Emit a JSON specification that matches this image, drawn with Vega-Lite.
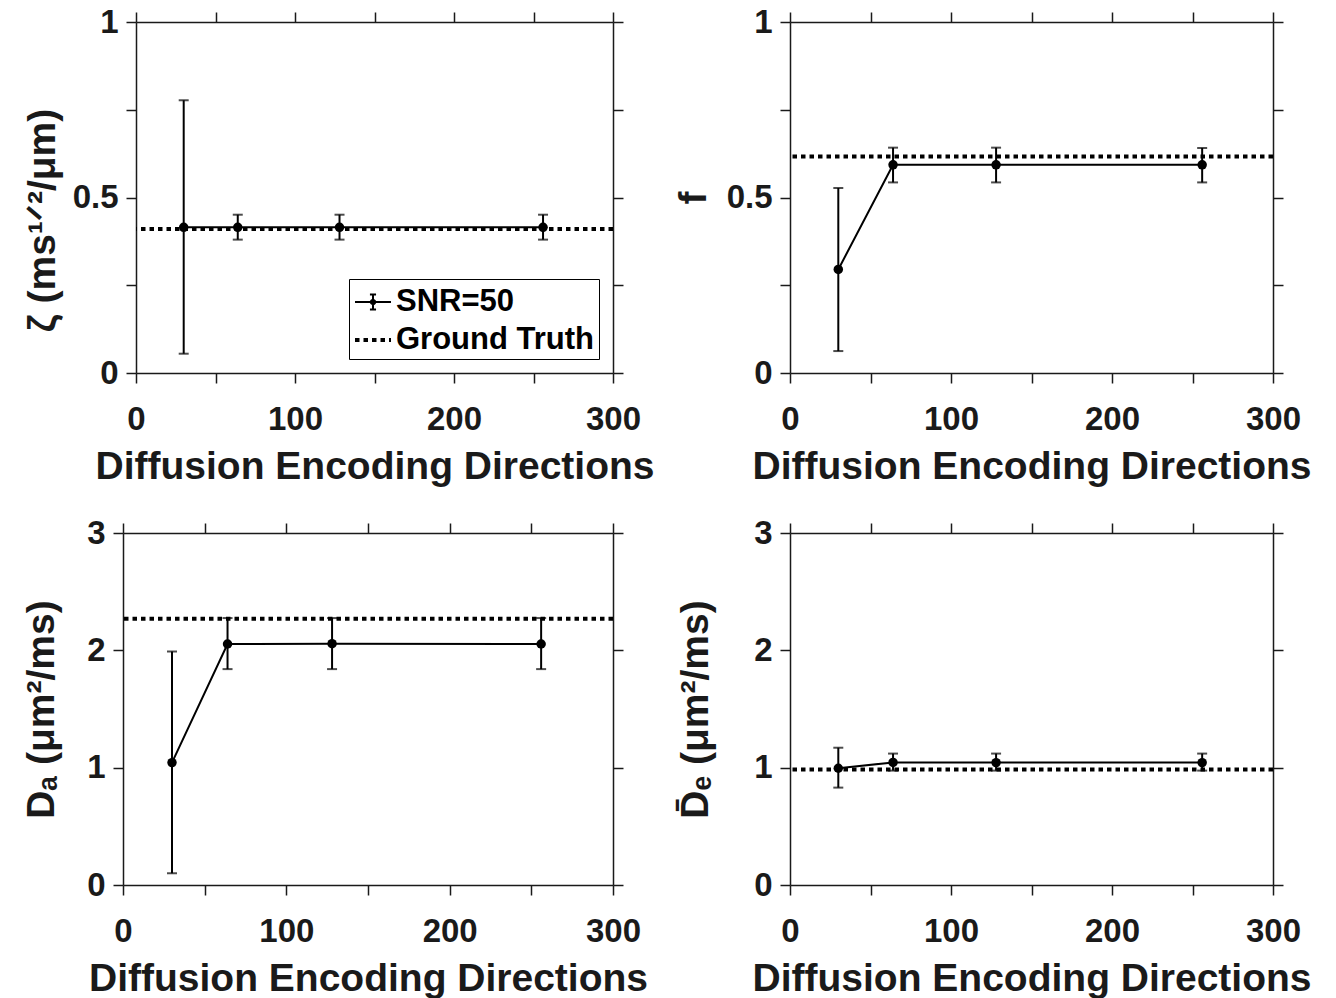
{
  "$schema": "https://vega.github.io/schema/vega-lite/v6.json",
  "background": "white",
  "padding": {"left": 22, "top": 6, "right": 5, "bottom": 0},
  "columns": 1,
  "align": "none",
  "resolve": {"scale": {"strokeDash": "independent", "shape": "independent", "strokeWidth": "independent"}, "legend": {"strokeDash": "independent", "shape": "independent", "strokeWidth": "independent"}},
  "datasets": {
    "pts": [
      {"panel": "zeta", "x": 30, "m": 0.415, "lo": 0.055, "hi": 0.777, "series": "SNR=50"},
      {"panel": "zeta", "x": 64, "m": 0.415, "lo": 0.38, "hi": 0.451, "series": "SNR=50"},
      {"panel": "zeta", "x": 128, "m": 0.415, "lo": 0.38, "hi": 0.451, "series": "SNR=50"},
      {"panel": "zeta", "x": 256, "m": 0.415, "lo": 0.38, "hi": 0.451, "series": "SNR=50"},
      {"panel": "f", "x": 30, "m": 0.295, "lo": 0.0625, "hi": 0.527, "series": "SNR=50"},
      {"panel": "f", "x": 64, "m": 0.593, "lo": 0.543, "hi": 0.642, "series": "SNR=50"},
      {"panel": "f", "x": 128, "m": 0.593, "lo": 0.543, "hi": 0.642, "series": "SNR=50"},
      {"panel": "f", "x": 256, "m": 0.593, "lo": 0.543, "hi": 0.641, "series": "SNR=50"},
      {"panel": "Da", "x": 30, "m": 1.043, "lo": 0.1, "hi": 1.99, "series": "SNR=50"},
      {"panel": "Da", "x": 64, "m": 2.054, "lo": 1.84, "hi": 2.275, "series": "SNR=50"},
      {"panel": "Da", "x": 128, "m": 2.057, "lo": 1.84, "hi": 2.275, "series": "SNR=50"},
      {"panel": "Da", "x": 256, "m": 2.054, "lo": 1.84, "hi": 2.275, "series": "SNR=50"},
      {"panel": "De", "x": 30, "m": 0.995, "lo": 0.83, "hi": 1.17, "series": "SNR=50"},
      {"panel": "De", "x": 64, "m": 1.045, "lo": 0.975, "hi": 1.12, "series": "SNR=50"},
      {"panel": "De", "x": 128, "m": 1.043, "lo": 0.975, "hi": 1.12, "series": "SNR=50"},
      {"panel": "De", "x": 256, "m": 1.043, "lo": 0.975, "hi": 1.12, "series": "SNR=50"}
    ],
    "gt": [
      {"panel": "zeta", "gt": 0.41, "series": "Ground Truth"},
      {"panel": "f", "gt": 0.617, "series": "Ground Truth"},
      {"panel": "Da", "gt": 2.27, "series": "Ground Truth"},
      {"panel": "De", "gt": 0.985, "series": "Ground Truth"}
    ]
  },
  "concat": [
    {
      "resolve": {"scale": {"strokeDash": "independent", "shape": "independent", "strokeWidth": "independent"}, "legend": {"strokeDash": "independent", "shape": "independent", "strokeWidth": "independent"}},
      "spacing": -101,
      "hconcat": [
        {
          "width": 1, "height": 1,
          "data": {"values": []},
          "mark": {"type": "point", "opacity": 0},
          "encoding": {}
        },
        {
          "resolve": {"scale": {"strokeDash": "independent", "shape": "independent", "strokeWidth": "independent"}, "legend": {"strokeDash": "independent", "shape": "independent", "strokeWidth": "independent"}},
          "spacing": 19,
          "hconcat": [
            {
              "width": 477, "height": 351,
              "resolve": {"axis": {"x": "independent", "y": "independent"}},
              "layer": [
                {
                  "data": {"name": "gt"},
                  "transform": [{"filter": "datum.panel === 'zeta'"}],
                  "mark": {"type": "rule", "color": "black"},
                  "encoding": {
                    "y": {"field": "gt", "type": "quantitative", "scale": {"domain": [0, 1], "nice": false}, "axis": null},
                    "strokeDash": {"field": "series", "type": "nominal",
                      "scale": {"domain": ["SNR=50", "Ground Truth"], "range": [[1, 0], [4.5, 4]]},
                      "legend": {"title": null, "orient": "bottom-right", "offset": 14}},
                    "strokeWidth": {"field": "series", "type": "nominal",
                      "scale": {"domain": ["SNR=50", "Ground Truth"], "range": [2, 4]},
                      "legend": {"title": null, "orient": "bottom-right", "offset": 14}}
                  }
                },
                {
                  "data": {"name": "pts"},
                  "transform": [{"filter": "datum.panel === 'zeta'"}],
                  "mark": {"type": "rule", "color": "black", "strokeWidth": 2},
                  "encoding": {
                    "x": {"field": "x", "type": "quantitative", "scale": {"domain": [0, 300], "nice": false},
                      "axis": {"orient": "bottom", "values": [0, 50, 100, 150, 200, 250, 300], "labelExpr": "datum.value % 100 === 0 ? datum.label : ''", "title": "Diffusion Encoding Directions"}},
                    "y": {"field": "lo", "type": "quantitative", "scale": {"domain": [0, 1], "nice": false},
                      "axis": {"orient": "left", "values": [0, 0.25, 0.5, 0.75, 1], "format": "~g", "labelExpr": "datum.value === 0.25 || datum.value === 0.75 ? '' : datum.label", "title": "ζ (ms¹ᐟ²/μm)", "titlePadding": 10, "titleY": 198}},
                    "y2": {"field": "hi"}
                  }
                },
                {
                  "data": {"name": "pts"},
                  "transform": [{"filter": "datum.panel === 'zeta'"}],
                  "mark": {"type": "tick", "orient": "horizontal", "color": "black", "size": 10, "thickness": 2},
                  "encoding": {
                    "x": {"field": "x", "type": "quantitative", "axis": {"orient": "top", "values": [0, 50, 100, 150, 200, 250, 300], "labels": false, "title": null}},
                    "y": {"field": "lo", "type": "quantitative", "axis": {"orient": "right", "values": [0, 0.25, 0.5, 0.75, 1], "labels": false, "title": null}}
                  }
                },
                {
                  "data": {"name": "pts"},
                  "transform": [{"filter": "datum.panel === 'zeta'"}],
                  "mark": {"type": "tick", "orient": "horizontal", "color": "black", "size": 10, "thickness": 2},
                  "encoding": {
                    "x": {"field": "x", "type": "quantitative", "axis": null},
                    "y": {"field": "hi", "type": "quantitative", "axis": null}
                  }
                },
                {
                  "data": {"name": "pts"},
                  "transform": [{"filter": "datum.panel === 'zeta'"}],
                  "mark": {"type": "line", "color": "black"},
                  "encoding": {
                    "x": {"field": "x", "type": "quantitative", "axis": null},
                    "y": {"field": "m", "type": "quantitative", "axis": null},
                    "strokeDash": {"field": "series", "type": "nominal", "legend": {"title": null, "orient": "bottom-right", "offset": 14}},
                    "strokeWidth": {"field": "series", "type": "nominal", "legend": {"title": null, "orient": "bottom-right", "offset": 14}}
                  }
                },
                {
                  "data": {"name": "pts"},
                  "transform": [{"filter": "datum.panel === 'zeta'"}],
                  "mark": {"type": "point", "filled": true, "color": "black", "size": 90, "opacity": 1},
                  "encoding": {
                    "x": {"field": "x", "type": "quantitative", "axis": null},
                    "y": {"field": "m", "type": "quantitative", "axis": null}
                  }
                },
                {
                  "data": {"name": "gt"},
                  "transform": [{"filter": "datum.gt < -100"}],
                  "mark": {"type": "point", "filled": false, "color": "black", "opacity": 1},
                  "encoding": {
                    "x": {"field": "gt", "type": "quantitative", "axis": null},
                    "y": {"field": "gt", "type": "quantitative", "axis": null},
                    "shape": {"field": "series", "type": "nominal",
                      "scale": {"domain": ["SNR=50", "Ground Truth"], "range": ["M-1,0H1M0,-0.42V0.42M-0.17,-0.42H0.17M-0.17,0.42H0.17M-0.12,0A0.12,0.12 0 1,0 0.12,0A0.12,0.12 0 1,0 -0.12,0Z", "M-1,0H1"]},
                      "legend": {"title": null, "orient": "bottom-right", "offset": 14}}
                  }
                }
              ]
            },
            {
              "width": 483, "height": 351,
              "resolve": {"axis": {"x": "independent", "y": "independent"}},
              "layer": [
                {
                  "data": {"name": "gt"},
                  "transform": [{"filter": "datum.panel === 'f'"}],
                  "mark": {"type": "rule", "color": "black", "strokeWidth": 4, "strokeDash": [4.5, 4]},
                  "encoding": {"y": {"field": "gt", "type": "quantitative", "scale": {"domain": [0, 1], "nice": false}, "axis": null}}
                },
                {
                  "data": {"name": "pts"},
                  "transform": [{"filter": "datum.panel === 'f'"}],
                  "mark": {"type": "rule", "color": "black", "strokeWidth": 2},
                  "encoding": {
                    "x": {"field": "x", "type": "quantitative", "scale": {"domain": [0, 300], "nice": false},
                      "axis": {"orient": "bottom", "values": [0, 50, 100, 150, 200, 250, 300], "labelExpr": "datum.value % 100 === 0 ? datum.label : ''", "title": "Diffusion Encoding Directions"}},
                    "y": {"field": "lo", "type": "quantitative", "scale": {"domain": [0, 1], "nice": false},
                      "axis": {"orient": "left", "values": [0, 0.25, 0.5, 0.75, 1], "format": "~g", "labelExpr": "datum.value === 0.25 || datum.value === 0.75 ? '' : datum.label", "title": "f", "titlePadding": 13}},
                    "y2": {"field": "hi"}
                  }
                },
                {
                  "data": {"name": "pts"},
                  "transform": [{"filter": "datum.panel === 'f'"}],
                  "mark": {"type": "tick", "orient": "horizontal", "color": "black", "size": 10, "thickness": 2},
                  "encoding": {
                    "x": {"field": "x", "type": "quantitative", "axis": {"orient": "top", "values": [0, 50, 100, 150, 200, 250, 300], "labels": false, "title": null}},
                    "y": {"field": "lo", "type": "quantitative", "axis": {"orient": "right", "values": [0, 0.25, 0.5, 0.75, 1], "labels": false, "title": null}}
                  }
                },
                {
                  "data": {"name": "pts"},
                  "transform": [{"filter": "datum.panel === 'f'"}],
                  "mark": {"type": "tick", "orient": "horizontal", "color": "black", "size": 10, "thickness": 2},
                  "encoding": {
                    "x": {"field": "x", "type": "quantitative", "axis": null},
                    "y": {"field": "hi", "type": "quantitative", "axis": null}
                  }
                },
                {
                  "data": {"name": "pts"},
                  "transform": [{"filter": "datum.panel === 'f'"}],
                  "mark": {"type": "line", "color": "black", "strokeWidth": 2},
                  "encoding": {
                    "x": {"field": "x", "type": "quantitative", "axis": null},
                    "y": {"field": "m", "type": "quantitative", "axis": null}
                  }
                },
                {
                  "data": {"name": "pts"},
                  "transform": [{"filter": "datum.panel === 'f'"}],
                  "mark": {"type": "point", "filled": true, "color": "black", "size": 90, "opacity": 1},
                  "encoding": {
                    "x": {"field": "x", "type": "quantitative", "axis": null},
                    "y": {"field": "m", "type": "quantitative", "axis": null}
                  }
                }
              ]
            }
          ]
        }
      ]
    },
    {
      "spacing": 28,
      "hconcat": [
        {
          "width": 490, "height": 352,
          "resolve": {"axis": {"x": "independent", "y": "independent"}},
          "layer": [
            {
              "data": {"name": "gt"},
              "transform": [{"filter": "datum.panel === 'Da'"}],
              "mark": {"type": "rule", "color": "black", "strokeWidth": 4, "strokeDash": [4.5, 4]},
              "encoding": {"y": {"field": "gt", "type": "quantitative", "scale": {"domain": [0, 3], "nice": false}, "axis": null}}
            },
            {
              "data": {"name": "pts"},
              "transform": [{"filter": "datum.panel === 'Da'"}],
              "mark": {"type": "rule", "color": "black", "strokeWidth": 2},
              "encoding": {
                "x": {"field": "x", "type": "quantitative", "scale": {"domain": [0, 300], "nice": false},
                  "axis": {"orient": "bottom", "values": [0, 50, 100, 150, 200, 250, 300], "labelExpr": "datum.value % 100 === 0 ? datum.label : ''", "title": "Diffusion Encoding Directions"}},
                "y": {"field": "lo", "type": "quantitative", "scale": {"domain": [0, 3], "nice": false},
                  "axis": {"orient": "left", "values": [0, 1, 2, 3], "format": "~g", "title": "Dₐ (μm²/ms)", "titlePadding": 25}},
                "y2": {"field": "hi"}
              }
            },
            {
              "data": {"name": "pts"},
              "transform": [{"filter": "datum.panel === 'Da'"}],
              "mark": {"type": "tick", "orient": "horizontal", "color": "black", "size": 10, "thickness": 2},
              "encoding": {
                "x": {"field": "x", "type": "quantitative", "axis": {"orient": "top", "values": [0, 50, 100, 150, 200, 250, 300], "labels": false, "title": null}},
                "y": {"field": "lo", "type": "quantitative", "axis": {"orient": "right", "values": [0, 1, 2, 3], "labels": false, "title": null}}
              }
            },
            {
              "data": {"name": "pts"},
              "transform": [{"filter": "datum.panel === 'Da'"}],
              "mark": {"type": "tick", "orient": "horizontal", "color": "black", "size": 10, "thickness": 2},
              "encoding": {
                "x": {"field": "x", "type": "quantitative", "axis": null},
                "y": {"field": "hi", "type": "quantitative", "axis": null}
              }
            },
            {
              "data": {"name": "pts"},
              "transform": [{"filter": "datum.panel === 'Da'"}],
              "mark": {"type": "line", "color": "black", "strokeWidth": 2},
              "encoding": {
                "x": {"field": "x", "type": "quantitative", "axis": null},
                "y": {"field": "m", "type": "quantitative", "axis": null}
              }
            },
            {
              "data": {"name": "pts"},
              "transform": [{"filter": "datum.panel === 'Da'"}],
              "mark": {"type": "point", "filled": true, "color": "black", "size": 90, "opacity": 1},
              "encoding": {
                "x": {"field": "x", "type": "quantitative", "axis": null},
                "y": {"field": "m", "type": "quantitative", "axis": null}
              }
            }
          ]
        },
        {
          "width": 483, "height": 352,
          "resolve": {"axis": {"x": "independent", "y": "independent"}},
          "layer": [
            {
              "data": {"name": "gt"},
              "transform": [{"filter": "datum.panel === 'De'"}],
              "mark": {"type": "rule", "color": "black", "strokeWidth": 4, "strokeDash": [4.5, 4]},
              "encoding": {"y": {"field": "gt", "type": "quantitative", "scale": {"domain": [0, 3], "nice": false}, "axis": null}}
            },
            {
              "data": {"name": "pts"},
              "transform": [{"filter": "datum.panel === 'De'"}],
              "mark": {"type": "rule", "color": "black", "strokeWidth": 2},
              "encoding": {
                "x": {"field": "x", "type": "quantitative", "scale": {"domain": [0, 300], "nice": false},
                  "axis": {"orient": "bottom", "values": [0, 50, 100, 150, 200, 250, 300], "labelExpr": "datum.value % 100 === 0 ? datum.label : ''", "title": "Diffusion Encoding Directions"}},
                "y": {"field": "lo", "type": "quantitative", "scale": {"domain": [0, 3], "nice": false},
                  "axis": {"orient": "left", "values": [0, 1, 2, 3], "format": "~g", "title": "D̄ₑ (μm²/ms)", "titlePadding": 38}},
                "y2": {"field": "hi"}
              }
            },
            {
              "data": {"name": "pts"},
              "transform": [{"filter": "datum.panel === 'De'"}],
              "mark": {"type": "tick", "orient": "horizontal", "color": "black", "size": 10, "thickness": 2},
              "encoding": {
                "x": {"field": "x", "type": "quantitative", "axis": {"orient": "top", "values": [0, 50, 100, 150, 200, 250, 300], "labels": false, "title": null}},
                "y": {"field": "lo", "type": "quantitative", "axis": {"orient": "right", "values": [0, 1, 2, 3], "labels": false, "title": null}}
              }
            },
            {
              "data": {"name": "pts"},
              "transform": [{"filter": "datum.panel === 'De'"}],
              "mark": {"type": "tick", "orient": "horizontal", "color": "black", "size": 10, "thickness": 2},
              "encoding": {
                "x": {"field": "x", "type": "quantitative", "axis": null},
                "y": {"field": "hi", "type": "quantitative", "axis": null}
              }
            },
            {
              "data": {"name": "pts"},
              "transform": [{"filter": "datum.panel === 'De'"}],
              "mark": {"type": "line", "color": "black", "strokeWidth": 2},
              "encoding": {
                "x": {"field": "x", "type": "quantitative", "axis": null},
                "y": {"field": "m", "type": "quantitative", "axis": null}
              }
            },
            {
              "data": {"name": "pts"},
              "transform": [{"filter": "datum.panel === 'De'"}],
              "mark": {"type": "point", "filled": true, "color": "black", "size": 90, "opacity": 1},
              "encoding": {
                "x": {"field": "x", "type": "quantitative", "axis": null},
                "y": {"field": "m", "type": "quantitative", "axis": null}
              }
            }
          ]
        }
      ]
    }
  ],
  "spacing": 31,
  "config": {
    "font": "Liberation Sans",
    "view": {"stroke": null},
    "axis": {
      "labelFont": "Liberation Sans", "labelFontWeight": "bold", "labelFontSize": 33, "labelColor": "#1a1a1a",
      "titleFont": "Liberation Sans", "titleFontWeight": "bold", "titleFontSize": 39, "titleColor": "#1a1a1a",
      "domainColor": "#1a1a1a", "domainWidth": 1.5, "tickColor": "#1a1a1a", "tickWidth": 1.5, "tickSize": 10,
      "grid": false, "labelFlush": false, "labelOverlap": false, "labelPadding": 8
    },
    "axisX": {"labelPadding": 20, "titlePadding": 11},
    "legend": {
      "labelFont": "Liberation Sans", "labelFontWeight": "bold", "labelFontSize": 31, "labelColor": "black", "labelLimit": 0,
      "strokeColor": "black", "fillColor": "white", "padding": 4, "symbolSize": 1296,
      "symbolStrokeColor": "black", "rowPadding": 3, "labelOffset": 3, "cornerRadius": 0
    }
  }
}
